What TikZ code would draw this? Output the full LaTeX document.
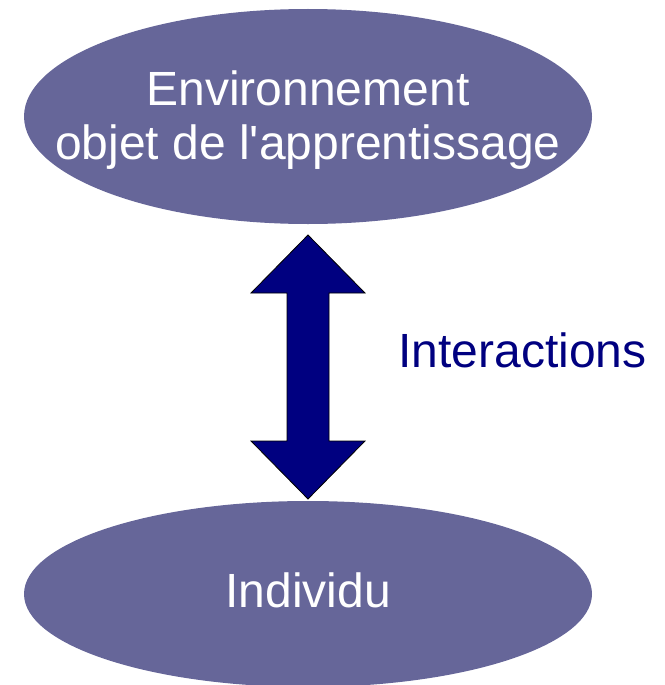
\documentclass[tikz,border=0pt]{standalone}
\usepackage{fontspec}
\setmainfont{Liberation Sans}
\usetikzlibrary{shapes.geometric}
\definecolor{ellfill}{RGB}{102,102,153}
\definecolor{navyc}{RGB}{0,0,128}
\begin{document}
\begin{tikzpicture}[x=1pt,y=-1pt,
  bubble/.style={ellipse, fill=ellfill, draw=none, inner sep=0pt},
  bubbletext/.style={text=white, align=center, inner sep=0pt,
    font=\fontsize{48}{54}\selectfont},
  dblarrow/.style={fill=navyc, draw=black, line width=0.8pt, line join=miter},
  lbl/.style={text=navyc, font=\fontsize{48}{56}\selectfont, inner sep=0pt}]
\useasboundingbox (0,0) rectangle (664,685);
\node[bubble, minimum width=568pt, minimum height=215pt] (env) at (308,116.5) {};
\node[bubbletext] (envtext) at (308,119.8)
  {Environnement\\objet de l\textquotesingle apprentissage};
\node[bubble, minimum width=568pt, minimum height=186pt] (ind) at (308,594) {};
\node[bubbletext, anchor=base] (indtext) at (308,607) {Individu};
\coordinate (tipT) at (308,235);
\coordinate (tipB) at (308,499);
\draw[dblarrow] (tipT) -- ++(57,58) -- ++(-36,0) -- ++(0,148) -- ++(36,0) -- (tipB)
  -- ++(-57,-58) -- ++(36,0) -- ++(0,-148) -- ++(-36,0) -- cycle;
\node[lbl, anchor=base] (inter) at (522.5,367) {Interactions};
\end{tikzpicture}
\end{document}
